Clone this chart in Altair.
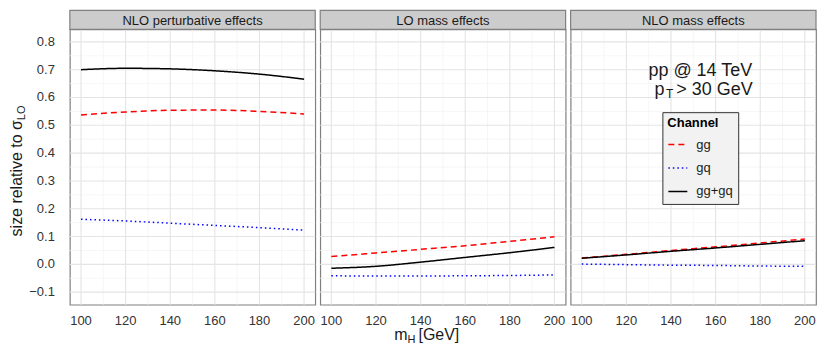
import altair as alt
import pandas as pd

# ---------------- data ----------------
mass = [100, 120, 140, 160, 180, 200]
channels = ["gg", "gq", "gg+gq"]
panel_names = ["NLO perturbative effects", "LO mass effects", "NLO mass effects"]

nlo_pert_gg = [0.537, 0.548, 0.554, 0.555, 0.550, 0.541]
nlo_pert_gq = [0.162, 0.156, 0.148, 0.140, 0.132, 0.123]
nlo_pert_sum = [0.700, 0.705, 0.703, 0.696, 0.684, 0.666]

lo_mass_gg = [0.028, 0.041, 0.054, 0.067, 0.083, 0.099]
lo_mass_gq = [-0.041, -0.042, -0.042, -0.041, -0.040, -0.038]
lo_mass_sum = [-0.014, -0.007, 0.008, 0.025, 0.042, 0.061]

nlo_mass_gg = [0.023, 0.036, 0.050, 0.063, 0.077, 0.091]
nlo_mass_gq = [0.001, -0.001, -0.003, -0.004, -0.006, -0.007]
nlo_mass_sum = [0.022, 0.034, 0.047, 0.059, 0.072, 0.085]

x_major = [100, 120, 140, 160, 180, 200]
x_labels = ["100", "120", "140", "160", "180", "200"]
x_minor = [110, 130, 150, 170, 190]
y_major = [-0.1, 0.0, 0.1, 0.2, 0.3, 0.4, 0.5, 0.6, 0.7, 0.8]
y_labels = ["\u22120.1", "0.0", "0.1", "0.2", "0.3", "0.4", "0.5", "0.6", "0.7", "0.8"]
y_minor = [-0.05, 0.05, 0.15, 0.25, 0.35, 0.45, 0.55, 0.65, 0.75]

series = {
    panel_names[0]: [nlo_pert_gg, nlo_pert_gq, nlo_pert_sum],
    panel_names[1]: [lo_mass_gg, lo_mass_gq, lo_mass_sum],
    panel_names[2]: [nlo_mass_gg, nlo_mass_gq, nlo_mass_sum],
}
rows = []
for pname, vals in series.items():
    for ch, ys in zip(channels, vals):
        for m, v in zip(mass, ys):
            rows.append({"panel": pname, "Channel": ch, "mH": m, "value": v})
df = pd.DataFrame(rows)

# ---------------- style ----------------
W, H, STRIP = 246, 276, 19
FONT = "Liberation Sans"
TXT = "#1a1a1a"
LAB = "#333333"

xscale = alt.Scale(domain=[95, 205], nice=False, zero=False)
yscale = alt.Scale(domain=[-0.145, 0.845], nice=False, zero=False)
cscale = alt.Scale(domain=channels, range=["#ff0000", "#0000ff", "#000000"])
dscale = alt.Scale(domain=channels, range=[[6, 4], [1.5, 3], [1, 0]])

legend = alt.Legend(title="Channel", orient="none", legendX=594, legendY=83)

xaxis = alt.Axis(values=x_major, title=None, grid=False, domain=False, labels=False,
                 tickSize=5, tickColor="#333333")
yaxis = alt.Axis(values=y_major, title=None, grid=False, domain=False, labels=False,
                 tickSize=5, tickColor="#333333")


def vrules(vals, color, width):
    return alt.Chart(pd.DataFrame({"v": vals})).mark_rule(color=color, strokeWidth=width).encode(
        x=alt.X("v:Q", scale=xscale, axis=None))


def hrules(vals, color, width):
    return alt.Chart(pd.DataFrame({"v": vals})).mark_rule(color=color, strokeWidth=width).encode(
        y=alt.Y("v:Q", scale=yscale, axis=None))


def txt(text, x, y, size, align="left", angle=0, weight="normal", baseline="alphabetic"):
    return alt.Chart(pd.DataFrame({"t": [text]})).mark_text(
        align=align, baseline=baseline, fontSize=size, angle=angle, fontWeight=weight,
        color=TXT, font=FONT).encode(x=alt.value(x), y=alt.value(y), text="t:N")


def panel(i):
    name = panel_names[i]
    sub = df[df["panel"] == name]
    grid = [
        vrules(x_minor, "#f4f4f4", 0.8),
        hrules(y_minor, "#f4f4f4", 0.8),
        vrules(x_major, "#e4e4e4", 1.1),
        hrules(y_major, "#e4e4e4", 1.1),
    ]
    lines = alt.Chart(sub).mark_line(strokeWidth=1.5, interpolate="monotone").encode(
        x=alt.X("mH:Q", scale=xscale, axis=xaxis),
        y=alt.Y("value:Q", scale=yscale, axis=yaxis if i == 0 else None),
        color=alt.Color("Channel:N", scale=cscale, sort=channels, legend=legend),
        strokeDash=alt.StrokeDash("Channel:N", scale=dscale, sort=channels, legend=legend),
    )
    xlab = alt.Chart(pd.DataFrame({"v": x_major, "t": x_labels})).mark_text(
        align="center", baseline="alphabetic", fontSize=13, color=LAB, font=FONT).encode(
        x=alt.X("v:Q", scale=xscale, axis=None), y=alt.value(H + 20), text="t:N")
    strip = alt.Chart(pd.DataFrame({"t": [name]})).mark_rect(
        fill="#cccccc", stroke="#808080", strokeWidth=1.2).encode(
        x=alt.value(0), x2=alt.value(W), y=alt.value(-STRIP), y2=alt.value(0))
    strip_text = txt(name, W / 2, -STRIP / 2 + 1, 13, align="center", baseline="middle")
    layers = grid + [lines, xlab, strip, strip_text]
    if i == 0:
        ylab = alt.Chart(pd.DataFrame({"v": y_major, "t": y_labels})).mark_text(
            align="right", baseline="middle", fontSize=13, color=LAB, font=FONT).encode(
            y=alt.Y("v:Q", scale=yscale, axis=None), x=alt.value(-15), text="t:N")
        jy = 91
        layers += [
            ylab,
            txt("size relative to σ", -47.5, jy, 16, align="right", angle=270),
            txt("LO", -44.5, jy, 11, align="left", angle=270),
        ]
    if i == 1:
        layers += [
            txt("m", 87.5, H + 35.5, 16, align="right"),
            txt("H", 87.5, H + 38.5, 11, align="left"),
            txt("[GeV]", 98.5, H + 35.5, 16, align="left"),
        ]
    if i == 2:
        layers += [
            txt("pp @ 14 TeV", 130, 46.5, 18, align="center"),
            txt("p", 94, 66, 18, align="right"),
            txt("T", 95.5, 69, 12, align="left"),
            txt("> 30 GeV", 106, 66, 18, align="left"),
        ]
    return alt.layer(*layers).properties(width=W, height=H)


chart = alt.hconcat(panel(0), panel(1), panel(2), spacing=5, bounds="flush",
                    padding={"left": 0, "top": 0, "right": 0, "bottom": 0}).configure(
    font=FONT, background="white"
).configure_view(
    stroke="#808080", strokeWidth=1.2
).configure_legend(
    fillColor="#f2f2f2", strokeColor="#333333", padding=5, cornerRadius=0,
    titleFontSize=13, titleFontWeight="bold", titleColor="#000000", titlePadding=4,
    labelFontSize=13, labelColor=TXT, symbolSize=361, symbolStrokeWidth=1.5,
    rowPadding=5.5, labelOffset=8, symbolType="stroke"
)

chart.save("out.html", embed_options={"renderer": "svg", "actions": False})
